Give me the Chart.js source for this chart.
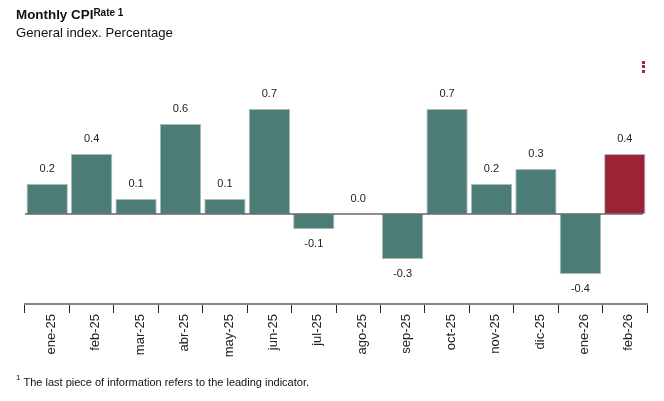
<!DOCTYPE html>
<html>
<head>
<meta charset="utf-8">
<script src="https://cdn.jsdelivr.net/npm/chart.js@4"></script>
<style>
  body { margin: 0; background: #fff; font-family: "Liberation Sans", Arial, sans-serif; color: #111; }
  #wrap { position: relative; width: 664px; height: 401px; }
  #grafico { position: absolute; left: 0; top: 0; }
  .titulo { position: absolute; left: 16px; top: 7px; font-size: 13.4px; font-weight: bold; }
  .titulo sup { font-size: 10px; position: relative; top: 0px; vertical-align: top; }
  .subtitulo { position: absolute; left: 16px; top: 25px; font-size: 13.2px; }
  .nota { position: absolute; left: 16px; top: 376px; font-size: 11px; }
  .nota sup { font-size: 8px; vertical-align: top; position: relative; top: -3px; margin-right: 3px; }
  .menu { position: absolute; left: 642px; top: 61px; width: 4px; }
  .menu span { display: block; width: 3px; height: 3px; background: #a3243a; margin-bottom: 1.4px; }
</style>
</head>
<body>
<div id="wrap">
  <canvas id="grafico" width="664" height="401"></canvas>
  <div class="titulo">Monthly CPI<sup>Rate 1</sup></div>
  <div class="subtitulo">General index. Percentage</div>
  <div class="menu"><span></span><span></span><span></span></div>
  <div class="nota"><sup>1</sup>The last piece of information refers to the leading indicator.</div>
</div>
<script>
const meses = ['ene-25', 'feb-25', 'mar-25', 'abr-25', 'may-25', 'jun-25', 'jul-25',
  'ago-25', 'sep-25', 'oct-25', 'nov-25', 'dic-25', 'ene-26', 'feb-26'];
const tasas = [0.2, 0.4, 0.1, 0.6, 0.1, 0.7, -0.1, 0.0, -0.3, 0.7, 0.2, 0.3, -0.4, 0.4];
const adelantado = [false, false, false, false, false, false, false,
  false, false, false, false, false, false, true];

const verde = '#4b7d76';
const rojo = '#9b2335';

// linea del cero por encima de las barras
const lineaCero = {
  id: 'lineaCero',
  afterDatasetsDraw(chart) {
    const { ctx, chartArea, scales } = chart;
    const y = scales.y.getPixelForValue(0);
    ctx.save();
    ctx.strokeStyle = 'rgba(50,50,50,0.55)';
    ctx.lineWidth = 2;
    ctx.beginPath();
    ctx.moveTo(chartArea.left, y);
    ctx.lineTo(chartArea.right - 4, y);
    ctx.stroke();
    ctx.restore();
  }
};

// etiquetas de valor sobre/bajo cada barra
const etiquetas = {
  id: 'etiquetas',
  afterDatasetsDraw(chart) {
    const { ctx } = chart;
    const meta = chart.getDatasetMeta(0);
    ctx.save();
    ctx.font = '11px "Liberation Sans", Arial, sans-serif';
    ctx.fillStyle = '#222';
    ctx.textAlign = 'center';
    ctx.textBaseline = 'middle';
    meta.data.forEach((bar, i) => {
      const v = tasas[i];
      const y = v < 0 ? bar.y + 15 : bar.y - 15;
      ctx.fillText(v.toFixed(1), bar.x, y);
    });
    ctx.restore();
  }
};

new Chart(document.getElementById('grafico'), {
  type: 'bar',
  data: {
    labels: meses,
    datasets: [{
      data: tasas,
      backgroundColor: adelantado.map(a => a ? rojo : verde),
      borderColor: 'rgba(150,170,168,0.8)',
      borderWidth: 1,
      borderSkipped: false,
      barPercentage: 0.93,
      categoryPercentage: 1
    }]
  },
  options: {
    responsive: false,
    animation: false,
    layout: { padding: { left: 25, right: 17, top: 79, bottom: 37 } },
    plugins: { legend: { display: false }, tooltip: { enabled: false } },
    scales: {
      y: { display: false, min: -0.6, max: 0.9 },
      x: {
        afterFit(scale) { scale.height = 60; },
        grid: {
          drawOnChartArea: false,
          drawTicks: true,
          tickLength: 9,
          color: '#222',
          lineWidth: 1
        },
        border: { display: true, color: '#888', width: 2 },
        ticks: {
          minRotation: 90,
          maxRotation: 90,
          padding: 1,
          labelOffset: 4,
          color: '#222',
          font: { family: '"Liberation Sans", Arial, sans-serif', size: 13 }
        }
      }
    }
  },
  plugins: [lineaCero, etiquetas]
});
</script>
</body>
</html>
